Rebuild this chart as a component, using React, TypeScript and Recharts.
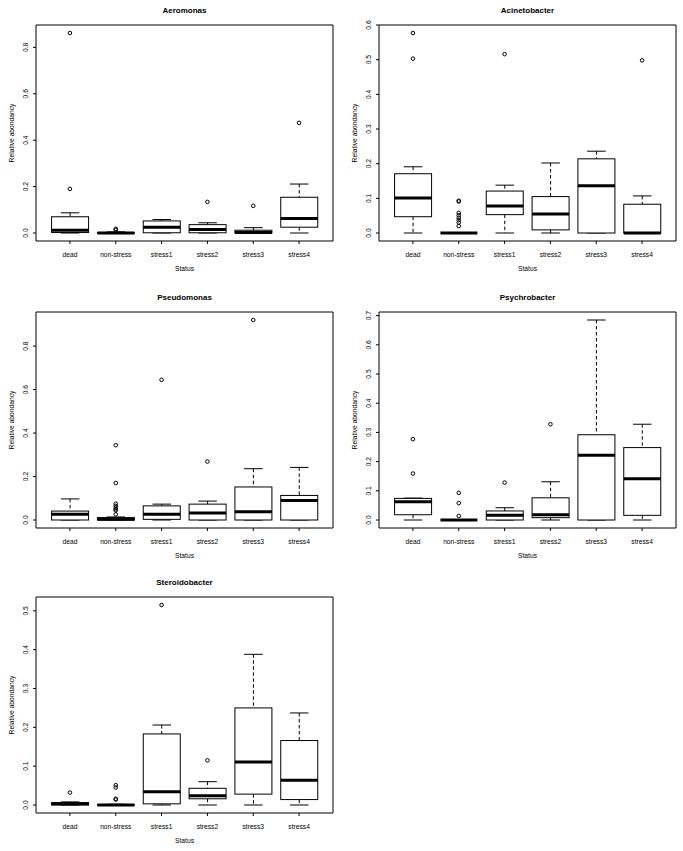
import { ComposedChart, Bar, Line, XAxis, YAxis } from 'recharts';

const FONT = '"Liberation Sans", Arial, Helvetica, sans-serif';

const CATEGORIES = ['dead', 'non-stress', 'stress1', 'stress2', 'stress3', 'stress4'];

// Aeromonas
const AERO_LOW = [0, 0, 0, 0, 0, 0];
const AERO_Q1 = [0.002, 0, 0.001, 0.001, 0, 0.025];
const AERO_MED = [0.012, 0, 0.025, 0.015, 0.002, 0.062];
const AERO_Q3 = [0.07, 0.002, 0.052, 0.036, 0.012, 0.154];
const AERO_HIGH = [0.087, 0.005, 0.058, 0.044, 0.023, 0.211];
const AERO_OUT = [[0.862, 0.19], [0.018, 0.013], [], [0.134], [0.117], [0.475]];
const AERO_TICKS = [0, 0.2, 0.4, 0.6, 0.8];

// Acinetobacter
const ACI_LOW = [0, 0, 0, 0, 0, 0];
const ACI_Q1 = [0.047, 0, 0.053, 0.009, 0, 0];
const ACI_MED = [0.101, 0, 0.078, 0.055, 0.136, 0];
const ACI_Q3 = [0.171, 0, 0.121, 0.105, 0.214, 0.083];
const ACI_HIGH = [0.191, 0, 0.138, 0.202, 0.236, 0.107];
const ACI_OUT = [[0.577, 0.503], [0.093, 0.091, 0.058, 0.051, 0.044, 0.037, 0.03, 0.02], [0.516], [], [], [0.498]];
const ACI_TICKS = [0, 0.1, 0.2, 0.3, 0.4, 0.5, 0.6];

// Pseudomonas
const PSEUDO_LOW = [0, 0, 0, 0, 0, 0];
const PSEUDO_Q1 = [0, 0, 0.003, 0, 0, 0];
const PSEUDO_MED = [0.027, 0.003, 0.026, 0.032, 0.038, 0.09];
const PSEUDO_Q3 = [0.041, 0.011, 0.065, 0.073, 0.152, 0.113];
const PSEUDO_HIGH = [0.097, 0.014, 0.073, 0.087, 0.236, 0.242];
const PSEUDO_OUT = [[], [0.344, 0.17, 0.075, 0.065, 0.056, 0.049, 0.044, 0.026], [0.645], [0.269], [0.92], []];
const PSEUDO_TICKS = [0, 0.2, 0.4, 0.6, 0.8];

// Psychrobacter
const PSYCHRO_LOW = [0, 0, 0, 0, 0, 0];
const PSYCHRO_Q1 = [0.018, 0, 0, 0.008, 0, 0.016];
const PSYCHRO_MED = [0.0625, 0, 0.016, 0.018, 0.222, 0.141];
const PSYCHRO_Q3 = [0.074, 0, 0.031, 0.076, 0.292, 0.248];
const PSYCHRO_HIGH = [0.075, 0, 0.042, 0.131, 0.685, 0.328];
const PSYCHRO_OUT = [[0.277, 0.159], [0.093, 0.058, 0.014], [0.128], [0.328], [], []];
const PSYCHRO_TICKS = [0, 0.1, 0.2, 0.3, 0.4, 0.5, 0.6, 0.7];

// Steroidobacter
const STEROID_LOW = [0, 0, 0, 0, 0, 0];
const STEROID_Q1 = [0, 0, 0.003, 0.016, 0.028, 0.014];
const STEROID_MED = [0.003, 0, 0.034, 0.024, 0.111, 0.064];
const STEROID_Q3 = [0.006, 0.001, 0.183, 0.043, 0.25, 0.166];
const STEROID_HIGH = [0.008, 0.002, 0.206, 0.06, 0.388, 0.237];
const STEROID_OUT = [[0.032], [0.051, 0.045, 0.016, 0.014], [0.515], [0.115], [], []];
const STEROID_TICKS = [0, 0.1, 0.2, 0.3, 0.4, 0.5];

const MAX_OUT = 8;

function buildRows(low: number[], q1: number[], med: number[], q3: number[], high: number[], out: number[][]) {
  return CATEGORIES.map((status, i) => {
    const row: any = {
      status,
      low: low[i],
      q1: q1[i],
      med: med[i],
      q3: q3[i],
      high: high[i],
      range: [low[i], high[i]],
      out: out[i],
    };
    for (let k = 0; k < MAX_OUT; k++) row['o' + k] = out[i][k] ?? null;
    return row;
  });
}

// R-style ylim: data range stretched by 4% at each end
function yDomain(rows: any[]) {
  const vals = rows.flatMap((r) => [r.low, r.high, ...r.out]);
  const lo = Math.min(...vals);
  const hi = Math.max(...vals);
  const pad = (hi - lo) * 0.04;
  return [lo - pad, hi + pad];
}

const BoxShape = (props: any) => {
  const { x, y, width, height, payload } = props;
  if (x == null || y == null) return <g />;
  const top = Math.min(y, y + height);
  const bottom = Math.max(y, y + height);
  const span = payload.high - payload.low;
  const py = (v: number) => (span > 0 ? bottom - ((v - payload.low) / span) * (bottom - top) : bottom);
  const cx = x + width / 2;
  const cap = width / 4;
  const yQ1 = py(payload.q1);
  const yQ3 = py(payload.q3);
  const yMed = py(payload.med);
  return (
    <g>
      <line x1={cx} x2={cx} y1={top} y2={yQ3} stroke="#000" strokeDasharray="3.5 2.5" />
      <line x1={cx} x2={cx} y1={yQ1} y2={bottom} stroke="#000" strokeDasharray="3.5 2.5" />
      <line x1={cx - cap} x2={cx + cap} y1={top} y2={top} stroke="#000" />
      <line x1={cx - cap} x2={cx + cap} y1={bottom} y2={bottom} stroke="#000" />
      <rect x={x} y={yQ3} width={width} height={Math.max(0, yQ1 - yQ3)} fill="#fff" stroke="#000" />
      <line x1={x} x2={x + width} y1={yMed} y2={yMed} stroke="#000" strokeWidth={3} />
    </g>
  );
};

const OutlierDot = (props: any) => {
  const { cx, cy, value } = props;
  if (value == null || cx == null || cy == null || !isFinite(cy)) return <g />;
  return <circle cx={cx} cy={cy} r={1.8} fill="none" stroke="#000" strokeWidth={1} />;
};

const XTick = ({ x, y, payload }: any) => (
  <text x={x} y={y} textAnchor="middle" fontSize={6.7} fontFamily={FONT} fill="#000">
    {payload.value}
  </text>
);

const YTick = ({ x, y, payload }: any) => (
  <text
    x={x}
    y={y}
    transform={`rotate(-90, ${x}, ${y})`}
    textAnchor="middle"
    fontSize={6.7}
    fontFamily={FONT}
    fill="#000"
  >
    {Number(payload.value).toFixed(1)}
  </text>
);

type PanelProps = { title: string; rows: any[]; ticks: number[]; left: number; top: number };

function Panel({ title, rows, ticks, left, top }: PanelProps) {
  const domain = yDomain(rows);
  return (
    <div style={{ position: 'absolute', left, top }}>
      <ComposedChart
        width={340}
        height={279}
        data={rows}
        margin={{ top: 24, right: 6, bottom: 0, left: 0 }}
        barCategoryGap="10%"
      >
        <XAxis
          dataKey="status"
          height={38}
          padding={{ left: 11, right: 11 }}
          stroke="#000"
          tickSize={3}
          tickMargin={12.5}
          tick={XTick}
          interval={0}
          label={({ viewBox }: any) => (
            <text
              x={viewBox.x + viewBox.width / 2}
              y={viewBox.y + 29.5}
              textAnchor="middle"
              fontSize={6.7}
              fontFamily={FONT}
              fill="#000"
            >
              Status
            </text>
          )}
        />
        {/* top axis: upper frame edge + panel title */}
        <XAxis
          xAxisId="top"
          orientation="top"
          dataKey="status"
          height={1}
          padding={{ left: 11, right: 11 }}
          stroke="#000"
          tick={false}
          tickLine={false}
          label={({ viewBox }: any) => (
            <text
              x={viewBox.x + viewBox.width / 2}
              y={viewBox.y + viewBox.height - 12}
              textAnchor="middle"
              fontSize={8}
              fontWeight="bold"
              fontFamily={FONT}
              fill="#000"
            >
              {title}
            </text>
          )}
        />
        <YAxis
          type="number"
          width={36}
          domain={domain}
          allowDataOverflow
          ticks={ticks}
          interval={0}
          stroke="#000"
          tickSize={3}
          tickMargin={5}
          tick={YTick}
          label={({ viewBox }: any) => {
            const lx = viewBox.x + 14;
            const ly = viewBox.y + viewBox.height / 2;
            return (
              <text
                x={lx}
                y={ly}
                transform={`rotate(-90, ${lx}, ${ly})`}
                textAnchor="middle"
                fontSize={6.7}
                fontFamily={FONT}
                fill="#000"
              >
                Relative abondancy
              </text>
            );
          }}
        />
        {/* right axis: right frame edge */}
        <YAxis
          yAxisId="right"
          orientation="right"
          type="number"
          width={1}
          domain={domain}
          allowDataOverflow
          stroke="#000"
          tick={false}
          tickLine={false}
        />
        <Bar dataKey="range" shape={BoxShape} isAnimationActive={false} legendType="none" />
        {Array.from({ length: MAX_OUT }, (_, k) => (
          <Line
            key={k}
            dataKey={'o' + k}
            stroke="none"
            dot={OutlierDot}
            activeDot={false}
            connectNulls={false}
            isAnimationActive={false}
            legendType="none"
          />
        ))}
      </ComposedChart>
    </div>
  );
}

export default function App() {
  const aero = buildRows(AERO_LOW, AERO_Q1, AERO_MED, AERO_Q3, AERO_HIGH, AERO_OUT);
  const aci = buildRows(ACI_LOW, ACI_Q1, ACI_MED, ACI_Q3, ACI_HIGH, ACI_OUT);
  const pseudo = buildRows(PSEUDO_LOW, PSEUDO_Q1, PSEUDO_MED, PSEUDO_Q3, PSEUDO_HIGH, PSEUDO_OUT);
  const psychro = buildRows(PSYCHRO_LOW, PSYCHRO_Q1, PSYCHRO_MED, PSYCHRO_Q3, PSYCHRO_HIGH, PSYCHRO_OUT);
  const steroid = buildRows(STEROID_LOW, STEROID_Q1, STEROID_MED, STEROID_Q3, STEROID_HIGH, STEROID_OUT);

  return (
    <div
      style={{
        position: 'absolute',
        left: 0,
        top: 0,
        width: 683,
        height: 851,
        overflow: 'hidden',
        background: '#fff',
      }}
    >
      <Panel title="Aeromonas" rows={aero} ticks={AERO_TICKS} left={0} top={0} />
      <Panel title="Acinetobacter" rows={aci} ticks={ACI_TICKS} left={343} top={0} />
      <Panel title="Pseudomonas" rows={pseudo} ticks={PSEUDO_TICKS} left={0} top={287} />
      <Panel title="Psychrobacter" rows={psychro} ticks={PSYCHRO_TICKS} left={343} top={287} />
      <Panel title="Steroidobacter" rows={steroid} ticks={STEROID_TICKS} left={0} top={572} />
    </div>
  );
}
